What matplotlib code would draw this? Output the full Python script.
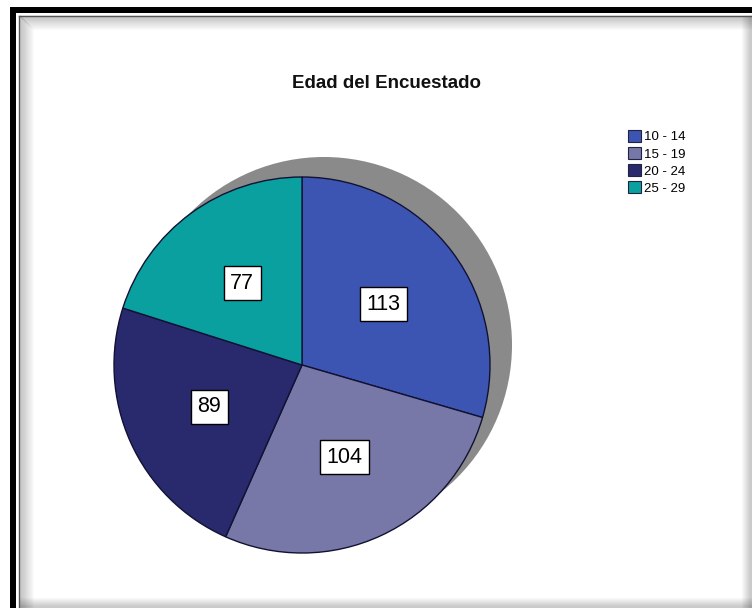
import matplotlib
matplotlib.use("Agg")
import matplotlib.pyplot as plt
import numpy as np
from matplotlib.patches import Circle, Rectangle, Patch

# ---- data ----
categories = ["10 - 14", "15 - 19", "20 - 24", "25 - 29"]
counts = [113, 104, 89, 77]
colors = ["#3D55B2", "#7878A8", "#29296D", "#0AA0A0"]
title = "Edad del Encuestado"

W, H = 752, 608
plt.rcParams['font.family'] = ['Liberation Sans', 'DejaVu Sans']
fig = plt.figure(figsize=(W / 100, H / 100), dpi=100)
ax = fig.add_axes([0, 0, 1, 1])
ax.set_axis_off()

cx, cy, r = 302, H - 365, 188

# shadow disc
ax.add_patch(Circle((cx + 22, cy + 20), r, facecolor="#8A8A8A", edgecolor="none", zorder=1))

wedges, _ = ax.pie(counts, colors=colors, startangle=90, counterclock=False,
                   center=(cx, cy), radius=r,
                   wedgeprops=dict(edgecolor="#111133", linewidth=1.0, zorder=2))
for w in wedges:
    w.set_zorder(2)

# value labels
total = sum(counts)
start = 90.0
for v in counts:
    span = 360.0 * v / total
    mid = np.deg2rad(start - span / 2)
    x = cx + 0.54 * r * np.cos(mid)
    y = cy + 0.54 * r * np.sin(mid)
    ax.text(x, y, str(v), ha="center", va="center", fontsize=15.5, color="black", zorder=5,
            bbox=dict(boxstyle="square,pad=0.3", facecolor="white", edgecolor="black", linewidth=1.0))
    start -= span

ax.set_xlim(0, W)
ax.set_ylim(0, H)
ax.set_aspect('auto')

# title
ax.text(387, H - 83, title, ha="center", va="center", fontsize=13.5, fontweight="bold", color="#111111")

# legend
handles = [Patch(facecolor=c, edgecolor="#222244", linewidth=0.8) for c in colors]
fig.legend(handles, categories, loc="upper left", bbox_to_anchor=(628 / W, 1 - 130 / H),
           fontsize=9.5, frameon=False, handlelength=1.0, handleheight=1.0,
           labelspacing=0.28, handletextpad=0.25, borderpad=0, borderaxespad=0)

# frame: black outer border (left/top), inner shading
ax.add_patch(Rectangle((10, 0), 6, H - 7, facecolor="black", edgecolor="none", zorder=10))
ax.add_patch(Rectangle((10, H - 13), W - 10, 6, facecolor="black", edgecolor="none", zorder=10))
ax.plot([18.5, 18.5], [0, H - 15.5], color="#555555", lw=1.0, zorder=10)
ax.plot([18.5, W], [H - 15.5, H - 15.5], color="#555555", lw=1.0, zorder=10)
for i in range(14):
    a = 0.35 * (1 - i / 14)
    ax.plot([20 + i, 20 + i], [0, H - 16 - i], color="black", alpha=a * 0.5, lw=1.0, zorder=9)
    ax.plot([20 + i, W], [H - 16 - i, H - 16 - i], color="black", alpha=a * 0.5, lw=1.0, zorder=9)
for i in range(10):
    a = 0.35 * (1 - i / 10)
    ax.plot([W - 1 - i, W - 1 - i], [0, H - 16], color="black", alpha=a * 0.5, lw=1.0, zorder=9)
    ax.plot([20, W], [1 + i, 1 + i], color="black", alpha=a * 0.5, lw=1.0, zorder=9)

fig.savefig("out.png", dpi=100)
